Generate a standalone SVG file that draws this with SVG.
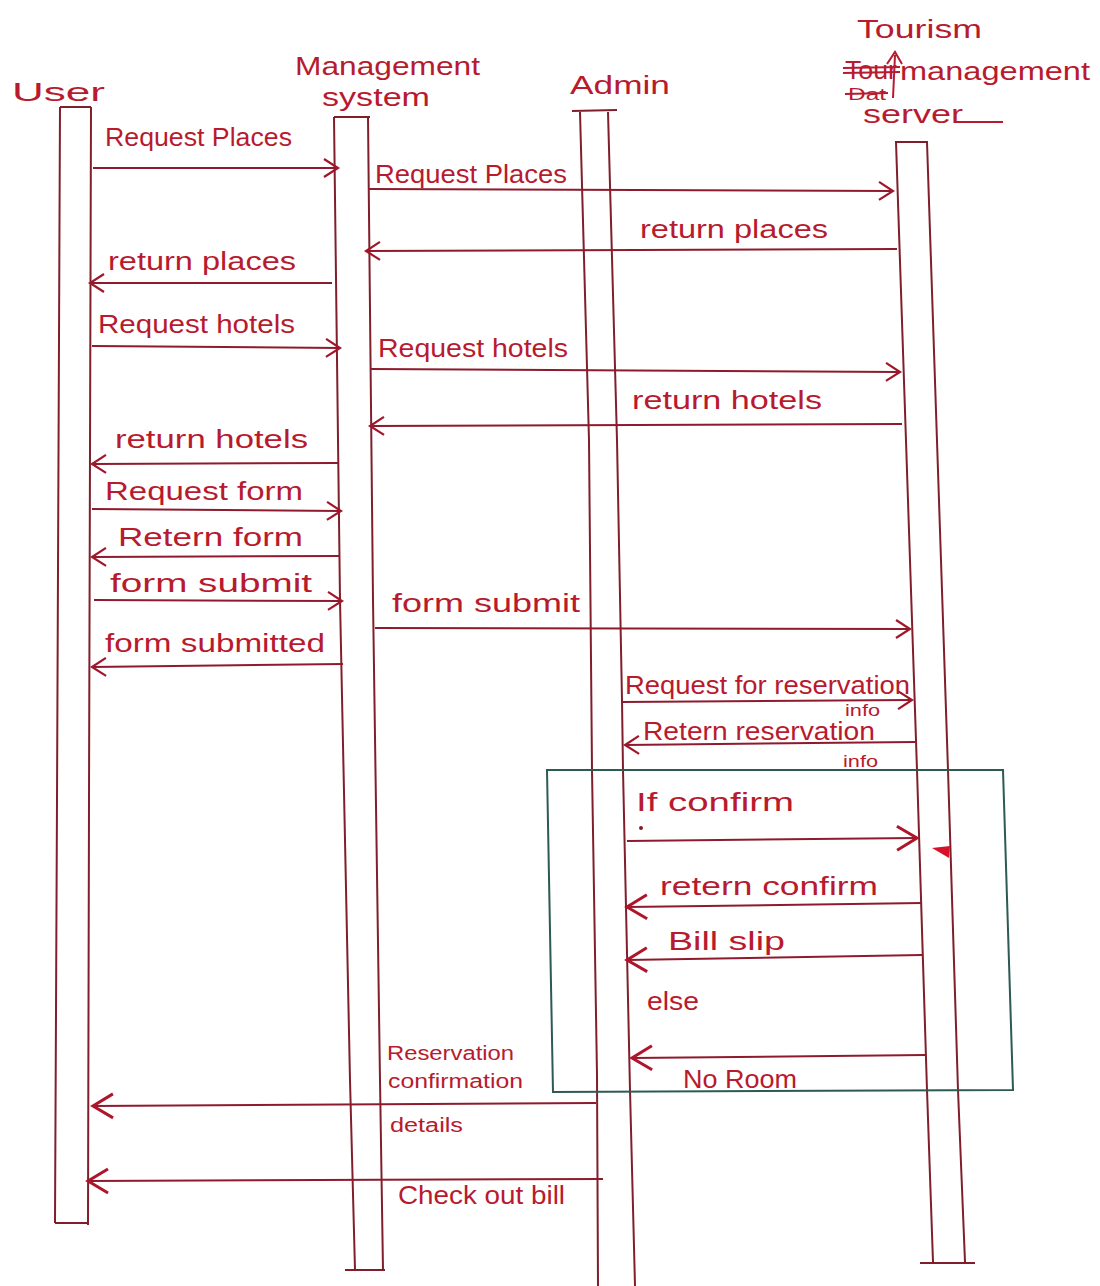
<svg xmlns="http://www.w3.org/2000/svg" width="1100" height="1286" viewBox="0 0 1100 1286">
<style>
  text { font-family: "Liberation Sans", "DejaVu Sans", sans-serif; fill: #b81a2e; font-size: 26px; }
  .sm { font-size: 20px; }
  .xs { font-size: 16px; }
  .life { fill: none; stroke: #7f1f2c; stroke-width: 2; }
  .msg { fill: none; stroke: #8e1b2d; stroke-width: 2; marker-end: url(#open); }
  .msgb { fill: none; stroke: #8e1b2d; stroke-width: 2; marker-end: url(#openBig); }
  .ink { fill: none; stroke: #b81a2e; stroke-width: 2; }
  .frame { fill: none; stroke: #2d5a52; stroke-width: 2; }
</style>
<defs>
  <marker id="open" markerUnits="userSpaceOnUse" markerWidth="24" markerHeight="24" refX="18" refY="10" orient="auto" overflow="visible">
    <path d="M4,1 L18,10 L4,19" fill="none" stroke="#a0162a" stroke-width="2.2"/>
  </marker>
  <marker id="openBig" markerUnits="userSpaceOnUse" markerWidth="30" markerHeight="30" refX="24" refY="13" orient="auto" overflow="visible">
    <path d="M4,1 L24,13 L4,25" fill="none" stroke="#b0142a" stroke-width="3"/>
  </marker>
</defs>

<rect width="1100" height="1286" fill="#ffffff"/>

<g id="user">
  <text x="12" y="101" textLength="93" lengthAdjust="spacingAndGlyphs" font-size="28">User</text>
  <polyline class="life" points="60,107 91,107"/>
  <polyline class="life" points="60,107 57,800 55,1223"/>
  <polyline class="life" points="91,107 89,800 88,1225"/>
  <polyline class="life" points="55,1223 88,1223"/>
</g>

<g id="management-system">
  <text x="295" y="75" textLength="185" lengthAdjust="spacingAndGlyphs" font-size="25">Management</text>
  <text x="322" y="106" textLength="108" lengthAdjust="spacingAndGlyphs" font-size="24">system</text>
  <polyline class="life" points="334,117 370,117"/>
  <polyline class="life" points="334,117 340,600 350,1080 355,1270"/>
  <polyline class="life" points="368,117 373,600 380,1080 383,1270"/>
  <polyline class="life" points="345,1270 385,1270"/>
</g>

<g id="admin">
  <text x="570" y="94" textLength="100" lengthAdjust="spacingAndGlyphs" font-size="30">Admin</text>
  <polyline class="life" points="572,111 617,110"/>
  <polyline class="life" points="580,112 589,440 592,770 597,1075 598,1286"/>
  <polyline class="life" points="608,112 617,440 622,700 623,770 630,1090 635,1286"/>
</g>

<g id="server">
  <text x="857" y="38" textLength="125" lengthAdjust="spacingAndGlyphs">Tourism</text>
  <text x="845" y="79" textLength="52" lengthAdjust="spacingAndGlyphs" font-size="22">Tour</text>
  <line class="ink" x1="843" y1="68" x2="900" y2="67"/>
  <line class="ink" x1="843" y1="73" x2="900" y2="72"/>
  <text x="900" y="80" textLength="190" lengthAdjust="spacingAndGlyphs">management</text>
  <text x="848" y="100" textLength="38" lengthAdjust="spacingAndGlyphs" class="xs">Dat</text>
  <line class="ink" x1="845" y1="94" x2="888" y2="93"/>
  <path class="ink" d="M893,98 L895,55 M887,64 L895,52 L902,64"/>
  <text x="863" y="123" textLength="100" lengthAdjust="spacingAndGlyphs">server</text>
  <line class="ink" x1="955" y1="122" x2="1003" y2="122"/>
  <polyline class="life" points="895,142 928,142"/>
  <polyline class="life" points="896,142 917,770 927,1090 933,1262"/>
  <polyline class="life" points="927,142 948,770 958,1090 965,1262"/>
  <polyline class="life" points="920,1263 975,1263"/>
</g>

<g id="alt-fragment">
  <polygon class="frame" points="547,770 1003,770 1013,1090 553,1092"/>
  <text x="636" y="811" textLength="158" lengthAdjust="spacingAndGlyphs">If confirm</text>
  <circle cx="641" cy="828" r="2" fill="#7f1f2c"/>
  <text x="647" y="1010" textLength="52" lengthAdjust="spacingAndGlyphs">else</text>
  <path d="M932,848 L950,846 L949,858 Z" fill="#d8102a"/>
</g>

<g id="connectors">
  <line class="msg" x1="93" y1="168" x2="338" y2="168"/>
  <line class="msg" x1="368" y1="189" x2="893" y2="191"/>
  <line class="msg" x1="897" y1="249" x2="366" y2="251"/>
  <line class="msg" x1="332" y1="283" x2="90" y2="283"/>
  <line class="msg" x1="92" y1="346" x2="340" y2="348"/>
  <line class="msg" x1="370" y1="369" x2="900" y2="372"/>
  <line class="msg" x1="902" y1="424" x2="370" y2="426"/>
  <line class="msg" x1="338" y1="463" x2="92" y2="464"/>
  <line class="msg" x1="92" y1="509" x2="341" y2="511"/>
  <line class="msg" x1="340" y1="556" x2="92" y2="557"/>
  <line class="msg" x1="94" y1="600" x2="342" y2="601"/>
  <line class="msg" x1="375" y1="628" x2="910" y2="629"/>
  <line class="msg" x1="343" y1="664" x2="92" y2="667"/>
  <line class="msg" x1="622" y1="702" x2="912" y2="700"/>
  <line class="msg" x1="915" y1="742" x2="625" y2="745"/>
  <line class="msgb" x1="627" y1="841" x2="917" y2="838"/>
  <line class="msgb" x1="922" y1="903" x2="627" y2="907"/>
  <line class="msgb" x1="922" y1="955" x2="627" y2="960"/>
  <line class="msgb" x1="925" y1="1055" x2="632" y2="1058"/>
  <line class="msgb" x1="596" y1="1103" x2="93" y2="1106"/>
  <line class="msgb" x1="603" y1="1179" x2="88" y2="1181"/>
</g>

<g id="labels">
  <text x="105" y="146" textLength="187" lengthAdjust="spacingAndGlyphs">Request Places</text>
  <text x="375" y="183" textLength="192" lengthAdjust="spacingAndGlyphs">Request Places</text>
  <text x="640" y="238" textLength="188" lengthAdjust="spacingAndGlyphs">return places</text>
  <text x="108" y="270" textLength="188" lengthAdjust="spacingAndGlyphs">return places</text>
  <text x="98" y="333" textLength="197" lengthAdjust="spacingAndGlyphs">Request hotels</text>
  <text x="378" y="357" textLength="190" lengthAdjust="spacingAndGlyphs">Request hotels</text>
  <text x="632" y="409" textLength="190" lengthAdjust="spacingAndGlyphs">return hotels</text>
  <text x="115" y="448" textLength="193" lengthAdjust="spacingAndGlyphs">return hotels</text>
  <text x="105" y="500" textLength="198" lengthAdjust="spacingAndGlyphs">Request form</text>
  <text x="118" y="546" textLength="185" lengthAdjust="spacingAndGlyphs">Retern form</text>
  <text x="110" y="592" textLength="202" lengthAdjust="spacingAndGlyphs">form submit</text>
  <text x="392" y="612" textLength="188" lengthAdjust="spacingAndGlyphs">form submit</text>
  <text x="105" y="652" textLength="220" lengthAdjust="spacingAndGlyphs">form submitted</text>
  <text x="625" y="694" textLength="285" lengthAdjust="spacingAndGlyphs" font-size="24">Request for reservation</text>
  <text x="845" y="716" textLength="35" lengthAdjust="spacingAndGlyphs" class="xs">info</text>
  <text x="643" y="740" textLength="232" lengthAdjust="spacingAndGlyphs" font-size="24">Retern reservation</text>
  <text x="843" y="767" textLength="35" lengthAdjust="spacingAndGlyphs" class="xs">info</text>
  <text x="660" y="895" textLength="218" lengthAdjust="spacingAndGlyphs">retern confirm</text>
  <text x="668" y="950" textLength="117" lengthAdjust="spacingAndGlyphs">Bill slip</text>
  <text x="683" y="1088" textLength="114" lengthAdjust="spacingAndGlyphs" font-size="22">No Room</text>
  <text x="387" y="1060" textLength="127" lengthAdjust="spacingAndGlyphs" class="sm">Reservation</text>
  <text x="388" y="1088" textLength="135" lengthAdjust="spacingAndGlyphs" class="sm">confirmation</text>
  <text x="390" y="1132" textLength="73" lengthAdjust="spacingAndGlyphs" class="sm">details</text>
  <text x="398" y="1204" textLength="167" lengthAdjust="spacingAndGlyphs" font-size="22">Check out bill</text>
</g>
</svg>
